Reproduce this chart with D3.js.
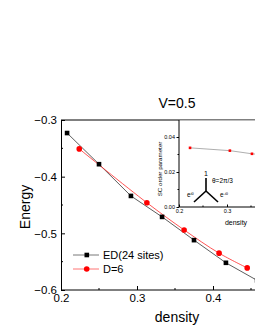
<!DOCTYPE html>
<html><head><meta charset="utf-8">
<script src="https://cdn.jsdelivr.net/npm/d3@7"></script>
<style>body{margin:0;background:#fff}svg{display:block;font-family:"Liberation Sans",Arial,sans-serif}</style>
</head><body><svg id="c" width="255" height="330"></svg>
<script>
// data
const edDensity = [0.208, 0.25, 0.292, 0.333, 0.375, 0.417, 0.458];
const edEnergy  = [-0.323, -0.378, -0.434, -0.471, -0.512, -0.552, -0.583];
const dDensity  = [0.224, 0.313, 0.362, 0.408, 0.445];
const dEnergy   = [-0.351, -0.446, -0.494, -0.535, -0.561];
const insetDensity = [0.223, 0.306, 0.352, 0.408];
const insetOrder   = [0.0338, 0.0322, 0.0304, 0.0292];
const xTicks = [0.2, 0.3, 0.4];
const yTicks = [-0.6, -0.5, -0.4, -0.3];
const insetYTicks = [0, 0.02, 0.04];
const insetXTicks = [0.2, 0.3];

const svg = d3.select("#c");
const x = d3.scaleLinear([0.2, 0.5], [61, 289]);
const y = d3.scaleLinear([-0.6, -0.3], [290, 120]);

// frame
svg.append("line").attr("x1",61).attr("x2",255).attr("y1",120).attr("y2",120).attr("stroke","#000");
// axes
const gx = svg.append("g").attr("transform","translate(0,290)")
  .call(d3.axisBottom(x).tickValues(xTicks).tickSizeInner(-4).tickSizeOuter(0).tickFormat(d3.format(".1f")).tickPadding(4));
gx.selectAll(".tick text").attr("font-size",11.5).attr("dy","0.7em");
gx.append("g").selectAll("line").data([0.25,0.35,0.45]).join("line")
  .attr("x1",d=>x(d)).attr("x2",d=>x(d)).attr("y1",0).attr("y2",-2).attr("stroke","#000");
const gy = svg.append("g").attr("transform","translate(61,0)")
  .call(d3.axisLeft(y).tickValues(yTicks).tickSizeInner(-4).tickSizeOuter(0).tickFormat(d3.format(".1f")).tickPadding(4));
gy.selectAll(".tick text").attr("font-size",11.5);
gy.append("g").selectAll("line").data([-0.55,-0.45,-0.35]).join("line")
  .attr("x1",0).attr("x2",2).attr("y1",d=>y(d)).attr("y2",d=>y(d)).attr("stroke","#000");
svg.selectAll(".domain").attr("stroke","#000");
gx.select(".domain").attr("d","M61,0H255");

// labels
svg.append("text").attr("x",177).attr("y",108).attr("text-anchor","middle").attr("font-size",14).text("V=0.5");
svg.append("text").attr("x",177).attr("y",322).attr("text-anchor","middle").attr("font-size",14).text("density");
svg.append("text").attr("transform","translate(30,207) rotate(-90)").attr("text-anchor","middle").attr("font-size",14).text("Energy");

// data
const plot = svg.append("g");
const ed = edDensity.map((d,i)=>[d, edEnergy[i]]);
const dm = dDensity.map((d,i)=>[d, dEnergy[i]]);
plot.append("path").datum(ed).attr("fill","none").attr("stroke","#333").attr("stroke-width",0.8)
  .attr("d", d3.line().x(d=>x(d[0])).y(d=>y(d[1])));
plot.append("path").datum(dm).attr("fill","none").attr("stroke","#ff2a2a").attr("stroke-width",0.8)
  .attr("d", d3.line().x(d=>x(d[0])).y(d=>y(d[1])).curve(d3.curveCatmullRom));
plot.selectAll("rect.ed").data(ed).join("rect").attr("class","ed")
  .attr("x",d=>x(d[0])-2.3).attr("y",d=>y(d[1])-2.3).attr("width",4.6).attr("height",4.6).attr("fill","#000");
plot.selectAll("circle.dm").data(dm).join("circle").attr("class","dm")
  .attr("cx",d=>x(d[0])).attr("cy",d=>y(d[1])).attr("r",2.8).attr("fill","#ff0000");

// legend
const lg = svg.append("g");
lg.append("line").attr("x1",73).attr("x2",99).attr("y1",255).attr("y2",255).attr("stroke","#555").attr("stroke-width",0.8);
lg.append("rect").attr("x",84.5).attr("y",252.7).attr("width",4.6).attr("height",4.6).attr("fill","#000");
lg.append("text").attr("x",103).attr("y",259).attr("font-size",11).text("ED(24 sites)");
lg.append("line").attr("x1",73).attr("x2",99).attr("y1",269).attr("y2",269).attr("stroke","#ff5050").attr("stroke-width",0.8);
lg.append("circle").attr("cx",86.7).attr("cy",269).attr("r",2.8).attr("fill","#ff0000");
lg.append("text").attr("x",103).attr("y",273).attr("font-size",11).text("D=6");

// inset
const xi = d3.scaleLinear([0.2, 0.4], [179, 275]);
const yi = d3.scaleLinear([0, 0.05], [207, 119.5]);
const ins = svg.append("g");
ins.append("rect").attr("x",179).attr("y",120.5).attr("width",80).attr("height",86.5).attr("fill","#fff");
const gix = ins.append("g").attr("transform","translate(0,207)")
  .call(d3.axisBottom(xi).tickValues(insetXTicks).tickSizeInner(-2.5).tickSizeOuter(0).tickFormat(d3.format(".1f")).tickPadding(2));
gix.selectAll(".tick text").attr("font-size",5.5).attr("fill","#000");
gix.select(".domain").attr("d","M179,0H255").attr("stroke","#000");
gix.append("g").selectAll("line").data([0.25,0.35]).join("line")
  .attr("x1",d=>xi(d)).attr("x2",d=>xi(d)).attr("y1",0).attr("y2",-1.5).attr("stroke","#000");
const giy = ins.append("g").attr("transform","translate(179,0)")
  .call(d3.axisLeft(yi).tickValues(insetYTicks).tickSizeInner(2.5).tickSizeOuter(0).tickFormat(d3.format(".2f")).tickPadding(1.5));
giy.selectAll(".tick text").attr("font-size",5.5).attr("fill","#000");
giy.select(".domain").attr("d","M0,120V207").attr("stroke","#000");
giy.append("g").selectAll("line").data([0.01,0.03]).join("line")
  .attr("x1",0).attr("x2",-1.5).attr("y1",d=>yi(d)).attr("y2",d=>yi(d)).attr("stroke","#000");
const io = insetDensity.map((d,i)=>[d, insetOrder[i]]);
ins.append("path").datum(io).attr("fill","none").attr("stroke","#999").attr("stroke-width",0.8)
  .attr("d", d3.line().x(d=>xi(d[0])).y(d=>yi(d[1])));
ins.selectAll("rect.io").data(io).join("rect").attr("class","io")
  .attr("x",d=>xi(d[0])-1.3).attr("y",d=>yi(d[1])-1.3).attr("width",2.6).attr("height",2.6).attr("fill","#ff0000");
ins.append("text").attr("transform","translate(162,169) rotate(-90)").attr("text-anchor","middle").attr("font-size",6.2).text("SC order parameter");
ins.append("text").attr("x",236).attr("y",225).attr("text-anchor","middle").attr("font-size",7).text("density");
// diagram
const dg = ins.append("g").attr("stroke","#000").attr("stroke-width",1.6);
dg.append("line").attr("x1",206).attr("y1",178).attr("x2",206).attr("y2",191);
dg.append("line").attr("x1",206).attr("y1",191).attr("x2",194).attr("y2",202);
dg.append("line").attr("x1",206).attr("y1",191).attr("x2",218).attr("y2",202);
ins.append("text").attr("x",206).attr("y",176).attr("text-anchor","middle").attr("font-size",7).text("1");
ins.append("text").attr("x",212).attr("y",183).attr("font-size",6.5).text("θ=2π/3");
const t1 = ins.append("text").attr("x",187).attr("y",197).attr("font-size",6.5);
t1.append("tspan").text("e"); t1.append("tspan").attr("dy",-2.5).attr("font-size",4).text("iθ");
const t2 = ins.append("text").attr("x",220).attr("y",197).attr("font-size",6.5);
t2.append("tspan").text("e"); t2.append("tspan").attr("dy",-2.5).attr("font-size",4).text("-iθ");
</script></body></html>
